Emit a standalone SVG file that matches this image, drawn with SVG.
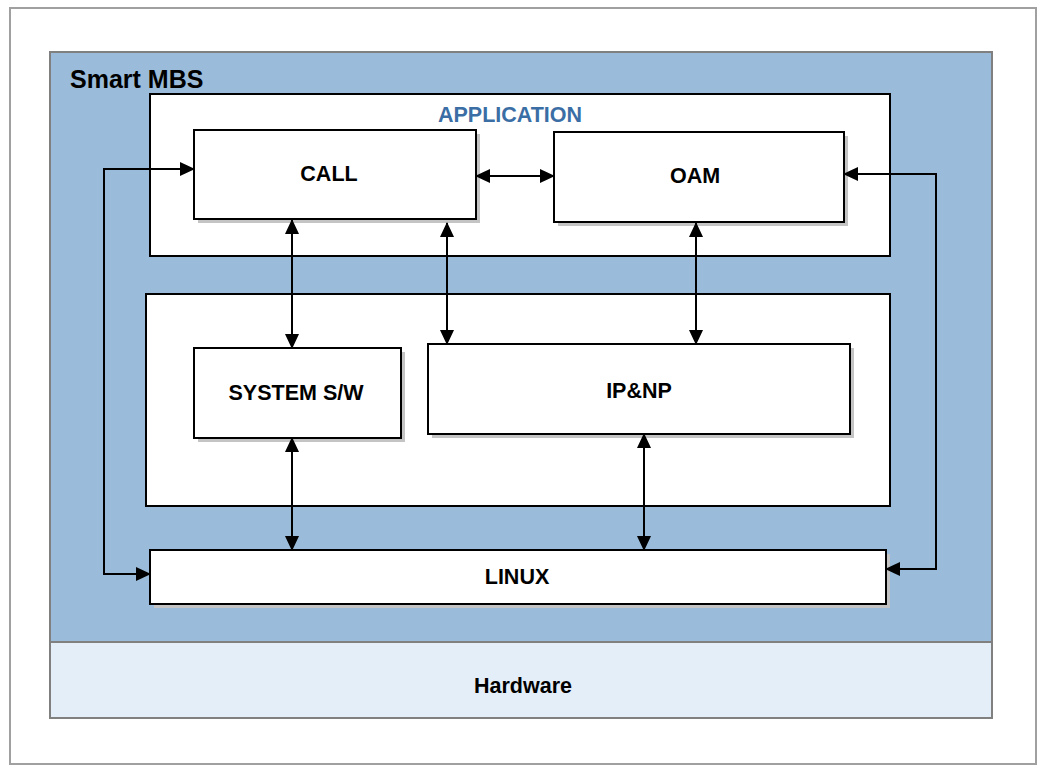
<svg xmlns="http://www.w3.org/2000/svg" width="1037" height="765" viewBox="0 0 1037 765">
<style>
.lbl{font-family:"Liberation Sans",Arial,sans-serif;font-weight:bold;font-size:21.5px;fill:#000;text-anchor:middle}
.box{fill:#fff;stroke:#000;stroke-width:2}
.shd{fill:#c4c4c4}
.con{fill:none;stroke:#000;stroke-width:2}
</style>
<defs>
<marker id="ah" viewBox="0 0 15 14" refX="14" refY="7" markerWidth="15" markerHeight="14" markerUnits="userSpaceOnUse" orient="auto-start-reverse">
<path d="M0,0 L15,7 L0,14 Z" fill="#000"/>
</marker>
</defs>
<rect width="1037" height="765" fill="#fff"/>
<g id="frame">
<rect x="10" y="8" width="1026" height="756" fill="#fff" stroke="#a0a0a0" stroke-width="2"/>
</g>
<g id="smart-mbs">
<rect x="50" y="52" width="942" height="590" fill="#9abcda" stroke="#808080" stroke-width="2"/>
<text x="70" y="88" font-family="Liberation Sans,Arial,sans-serif" font-weight="bold" font-size="25" fill="#000">Smart MBS</text>
</g>
<g id="hardware">
<rect x="50" y="642" width="942" height="76" fill="#e4eef8" stroke="#808080" stroke-width="2"/>
<text class="lbl" x="523" y="693">Hardware</text>
</g>
<g id="application">
<rect x="150" y="94" width="740" height="162" class="box"/>
<text x="510" y="122" font-family="Liberation Sans,Arial,sans-serif" font-weight="bold" font-size="21.5" fill="#3a6ea5" text-anchor="middle">APPLICATION</text>
</g>
<g id="platform">
<rect x="146" y="294" width="744" height="212" class="box"/>
</g>
<g id="call">
<rect x="198" y="134" width="282" height="89" class="shd"/>
<rect x="194" y="130" width="282" height="89" class="box"/>
<text class="lbl" x="329" y="181">CALL</text>
</g>
<g id="oam">
<rect x="558" y="136" width="290" height="90" class="shd"/>
<rect x="554" y="132" width="290" height="90" class="box"/>
<text class="lbl" x="695" y="183">OAM</text>
</g>
<g id="system-sw">
<rect x="198" y="352" width="207" height="90" class="shd"/>
<rect x="194" y="348" width="207" height="90" class="box"/>
<text class="lbl" x="296" y="400">SYSTEM S/W</text>
</g>
<g id="ipnp">
<rect x="432" y="348" width="422" height="90" class="shd"/>
<rect x="428" y="344" width="422" height="90" class="box"/>
<text class="lbl" x="639" y="398">IP&amp;NP</text>
</g>
<g id="linux">
<rect x="154" y="554" width="736" height="54" class="shd"/>
<rect x="150" y="550" width="736" height="54" class="box"/>
<text class="lbl" x="517" y="584">LINUX</text>
</g>
<g id="connectors">
<path class="con" d="M194,169 L104,169 L104,574 L150,574" marker-start="url(#ah)" marker-end="url(#ah)"/>
<path class="con" d="M844,174 L936,174 L936,569 L886,569" marker-start="url(#ah)" marker-end="url(#ah)"/>
<path class="con" d="M476,176 L554,176" marker-start="url(#ah)" marker-end="url(#ah)"/>
<path class="con" d="M292,220 L292,348" marker-start="url(#ah)" marker-end="url(#ah)"/>
<path class="con" d="M447,223 L447,344" marker-start="url(#ah)" marker-end="url(#ah)"/>
<path class="con" d="M696,223 L696,344" marker-start="url(#ah)" marker-end="url(#ah)"/>
<path class="con" d="M292,438 L292,550" marker-start="url(#ah)" marker-end="url(#ah)"/>
<path class="con" d="M644,434 L644,550" marker-start="url(#ah)" marker-end="url(#ah)"/>
</g>
</svg>
